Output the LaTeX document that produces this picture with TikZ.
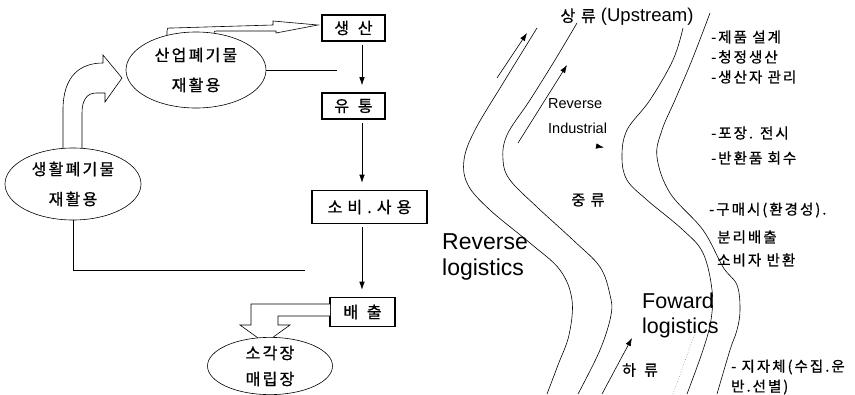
\documentclass[tikz,border=0pt]{standalone}
\usepackage{fontspec}
\setmainfont{Liberation Sans}
\newfontfamily\kr[LetterSpace=14, FakeBold=0.8]{Noto Sans CJK KR}
\newfontfamily\krwide[LetterSpace=32, FakeBold=0.8]{Noto Sans CJK KR}
\usetikzlibrary{shapes,arrows,arrows.meta,positioning,shapes.geometric}

\begin{document}
\begin{tikzpicture}[
    x=1pt, y=-1pt,
    every node/.style={inner sep=0pt},
    flowbox/.style={rectangle, draw=black, line width=1.6pt, fill=white,
                    font=\krwide\fontsize{16}{18}\selectfont},
    wastebox/.style={ellipse, draw=black, line width=0.6pt, fill=white,
                     align=center, font=\kr\fontsize{16}{30}\selectfont},
    arr/.style={-{Latex[length=8pt,width=5.5pt]}, line width=0.6pt,
                shorten >=7pt, shorten <=3pt},
    thinarr/.style={-{Latex[length=8pt,width=5.5pt]}, line width=0.6pt},
    link/.style={line width=0.6pt},
    blockarr/.style={draw=black, fill=white, line width=0.6pt, line join=miter},
    stream/.style={line width=0.6pt},
    note/.style={anchor=west, font=\kr\fontsize{14.5}{16}\selectfont},
    biglabel/.style={anchor=west, align=left, font=\fontsize{23}{26}\selectfont},
]
\useasboundingbox (0,0) rectangle (855,394);

% left: flow of goods and waste
\node[flowbox, minimum width=63, minimum height=26] (prod)  at (353.5,28)  {생 산};
\node[flowbox, minimum width=63, minimum height=26] (dist)  at (353.5,106) {유 통};
\node[flowbox, minimum width=115, minimum height=33] (cons) at (369.5,207) {소비.사용};
\node[flowbox, minimum width=65, minimum height=29] (emit)  at (362.5,312) {배 출};

\draw[blockarr] (63,148) -- (63,110) .. controls (63,76) and (80,63) .. (103,63)
    -- (103,55) -- (122,78) -- (105,102) -- (105,93) -- (96,93)
    .. controls (87,93) and (82,100) .. (82,113) -- (82,148);
\draw[blockarr] (167,40) -- (167,31) .. controls (167,28) .. (172,28) -- (273,25)
    -- (273,21) -- (318,25) -- (276,33) -- (276,31) -- (218,31)
    .. controls (214,31) .. (214,35) -- (214,40);
\draw[blockarr] (330,304) -- (251,304) -- (251,325) -- (240,325) -- (265,343)
    -- (290,325) -- (278,325) -- (278,316) -- (330,316);

\node[wastebox, minimum width=140, minimum height=76] (indus) at (196,70)  {산업폐기물\\재활용};
\node[wastebox, minimum width=136, minimum height=72] (home)  at (73,184)  {생활폐기물\\재활용};
\node[wastebox, minimum width=125, minimum height=52, font=\kr\fontsize{16}{26}\selectfont]
      (burn) at (270,366) {소각장\\매립장};

\coordinate (indend)  at (337,70);
\coordinate (homeend) at (305,270);

\draw[arr] ([xshift=8.5pt]prod.south) -- ([xshift=8.5pt]dist.north);
\draw[arr] ([xshift=8.5pt]dist.south) -- ([xshift=8.5pt]dist.south |- cons.north);
\draw[arr] ([xshift=-7.5pt]cons.south) -- ([xshift=-0.5pt]emit.north);
\draw[link] (indus.east) -- (indend);
\draw[link] (home.south) |- (homeend);

% right: streams
\draw[stream] plot[smooth, tension=0.6] coordinates {(537,28) (505,80) (475,130) (464,160)
    (468,185) (490,210) (530,243) (560,270) (572,300) (569,335) (558,365) (547,394)};
\draw[stream] plot[smooth, tension=0.6] coordinates {(577,23) (555,60) (530,100) (507,135)
    (503,160) (510,180) (537,207) (573,240) (600,267) (610,295) (611,315) (600,350) (578,394)};
\draw[stream] plot[smooth, tension=0.6] coordinates {(683,28) (673,60) (650,100) (627,130)
    (622,157) (627,180) (647,200) (683,230) (703,253) (712,290) (711,320) (703,350) (687,394)};
\draw[stream] plot[smooth, tension=0.6] coordinates {(710,13) (692,60) (675,100) (662,130)
    (657,157) (670,193) (703,230) (723,267) (737,285) (740,310) (737,330) (730,350) (717,394)};

\coordinate (up1s) at (497,78);  \coordinate (up1e) at (527,33);
\coordinate (up2s) at (518,143); \coordinate (up2e) at (567,65);
\coordinate (revs) at (596,146); \coordinate (reve) at (604,147.5);
\coordinate (dn1s) at (602,394); \coordinate (dn1e) at (632,338);
\coordinate (dots) at (673,394); \coordinate (dote) at (695,333);

\draw[thinarr] (up1s) -- (up1e);
\draw[thinarr] (up2s) -- (up2e);
\draw[thinarr] (revs) -- (reve);
\draw[thinarr] (dn1s) -- (dn1e);
\draw[link, gray, dotted] (dots) -- (dote);

\node[font=\fontsize{18.5}{20}\selectfont] (upstream) at (627,17) {{\kr\fontsize{16}{18}\selectfont 상 류} (Upstream)};
\node[anchor=west, align=left, font=\fontsize{14.5}{25}\selectfont] (revind) at (548,116) {Reverse\\Industrial};
\node[font=\kr\fontsize{15}{17}\selectfont] (mid)  at (588,200) {중 류};
\node[font=\krwide\fontsize{15}{17}\selectfont] (down) at (640,370) {하 류};
\node[biglabel] (revlog) at (442,257) {Reverse\\logistics};
\node[biglabel, font=\fontsize{21.5}{25}\selectfont] (fwdlog) at (642,315) {Foward\\logistics};

\node[note] (n1)  at (711,37)  {-제품 설계};
\node[note] (n2)  at (711,57)  {-청정생산};
\node[note] (n3)  at (711,77)  {-생산자 관리};
\node[note] (n4)  at (711,133) {-포장. 전시};
\node[note] (n5)  at (711,158) {-반환품 회수};
\node[note] (n6)  at (709,210) {-구매시(환경성).};
\node[note] (n7)  at (717,237) {분리배출};
\node[note] (n8)  at (717,260) {소비자 반환};
\node[note] (n9)  at (731,367) {- 지자체(수집.운};
\node[note] (n10) at (731,387) {반.선별)};

\end{tikzpicture}
\end{document}
